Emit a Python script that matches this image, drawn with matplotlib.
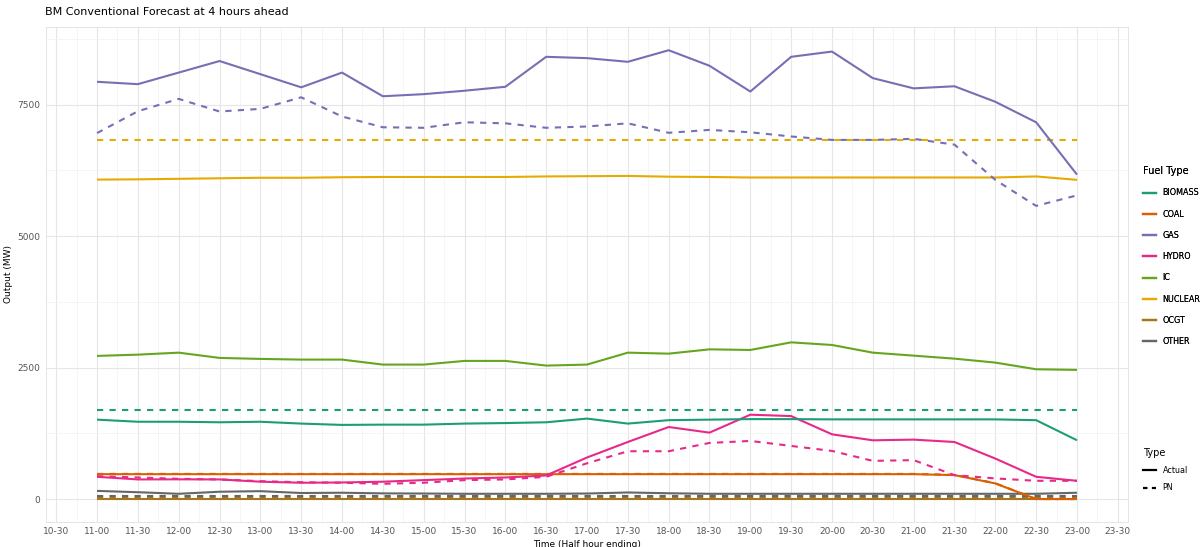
import matplotlib
matplotlib.use("Agg")
import matplotlib.pyplot as plt
from matplotlib.lines import Line2D
import numpy as np

# half hour ending labels, 10-30 .. 23-30 (data runs 11-00 .. 23-00)
tick_labels = ["10-30", "11-00", "11-30", "12-00", "12-30", "13-00", "13-30", "14-00", "14-30",
               "15-00", "15-30", "16-00", "16-30", "17-00", "17-30", "18-00", "18-30", "19-00",
               "19-30", "20-00", "20-30", "21-00", "21-30", "22-00", "22-30", "23-00", "23-30"]
data_times = tick_labels[1:-1]

gas_actual = [7935, 7890, 8110, 8330, 8080, 7830, 8110, 7660, 7700, 7765, 7840, 8410, 8385,
              8315, 8535, 8240, 7750, 8410, 8510, 8005, 7810, 7850, 7555, 7165, 6170]
gas_pn = [6960, 7375, 7610, 7370, 7420, 7640, 7275, 7070, 7060, 7165, 7145, 7060, 7085,
          7145, 6965, 7020, 6975, 6895, 6830, 6830, 6850, 6740, 6070, 5575, 5775]
nuclear_actual = [6075, 6080, 6090, 6100, 6110, 6110, 6120, 6125, 6125, 6125, 6125, 6135, 6140,
                  6145, 6130, 6125, 6115, 6115, 6115, 6115, 6115, 6115, 6115, 6135, 6070]
nuclear_pn = [6820, 6820, 6820, 6820, 6820, 6820, 6820, 6820, 6820, 6820, 6820, 6820, 6820,
              6820, 6820, 6820, 6820, 6820, 6820, 6820, 6820, 6820, 6820, 6820, 6820]
ic_actual = [2722, 2746, 2784, 2684, 2665, 2652, 2652, 2557, 2557, 2627, 2627, 2538, 2557,
             2784, 2765, 2847, 2835, 2980, 2930, 2784, 2727, 2670, 2595, 2468, 2456]
biomass_actual = [1510, 1470, 1470, 1460, 1470, 1435, 1410, 1415, 1415, 1435, 1445, 1460, 1530,
                  1435, 1500, 1510, 1520, 1520, 1515, 1515, 1515, 1515, 1515, 1500, 1118]
biomass_pn = [1690, 1690, 1690, 1690, 1690, 1690, 1690, 1690, 1690, 1690, 1690, 1690, 1690,
              1690, 1690, 1690, 1690, 1690, 1690, 1690, 1690, 1690, 1690, 1690, 1690]
hydro_actual = [423, 373, 375, 373, 330, 310, 315, 330, 360, 390, 410, 448, 790,
                1085, 1370, 1263, 1604, 1578, 1231, 1117, 1130, 1085, 770, 423, 347]
hydro_pn = [435, 410, 385, 373, 340, 320, 310, 290, 310, 360, 373, 423, 680,
            909, 909, 1067, 1105, 1010, 915, 726, 740, 455, 392, 347, 347]
coal_actual = [473, 473, 473, 473, 473, 473, 473, 473, 473, 473, 473, 473, 473,
               473, 473, 473, 473, 473, 473, 473, 473, 455, 297, 0, 0]
coal_pn = [478, 478, 478, 478, 478, 478, 478, 478, 478, 478, 478, 478, 478,
           478, 478, 478, 478, 478, 478, 478, 478, 460, 300, 0, 0]
other_actual = [155, 130, 100, 139, 150, 115, 120, 108, 105, 100, 100, 100, 105,
                125, 110, 100, 100, 100, 100, 100, 100, 100, 100, 100, 120]
other_pn = [55, 55, 55, 55, 55, 55, 55, 55, 55, 55, 55, 55, 55,
            55, 55, 55, 55, 55, 55, 55, 55, 55, 55, 55, 55]
ocgt_actual = [10, 10, 10, 10, 10, 10, 10, 10, 10, 10, 10, 10, 10,
               10, 10, 10, 10, 10, 10, 10, 10, 10, 10, 10, 10]
ocgt_pn = [25, 25, 25, 25, 25, 25, 25, 25, 25, 25, 25, 25, 25,
           25, 25, 25, 25, 25, 25, 25, 25, 25, 25, 25, 25]

fuels = ["BIOMASS", "COAL", "GAS", "HYDRO", "IC", "NUCLEAR", "OCGT", "OTHER"]
colours = ["#1B9E77", "#D95F02", "#7570B3", "#E7298A", "#66A61E", "#E6AB02", "#A6761D", "#666666"]
col = dict(zip(fuels, colours))

series = [
    ("OCGT", ocgt_actual, "Actual"), ("OCGT", ocgt_pn, "PN"),
    ("OTHER", other_actual, "Actual"), ("OTHER", other_pn, "PN"),
    ("COAL", coal_actual, "Actual"), ("COAL", coal_pn, "PN"),
    ("HYDRO", hydro_actual, "Actual"), ("HYDRO", hydro_pn, "PN"),
    ("BIOMASS", biomass_actual, "Actual"), ("BIOMASS", biomass_pn, "PN"),
    ("IC", ic_actual, "Actual"),
    ("NUCLEAR", nuclear_actual, "Actual"), ("NUCLEAR", nuclear_pn, "PN"),
    ("GAS", gas_actual, "Actual"), ("GAS", gas_pn, "PN"),
]

fig = plt.figure(figsize=(12.03, 5.47), dpi=100)
ax = fig.add_axes([46 / 1203, 1 - 521.5 / 547, 1082 / 1203, 494.5 / 547])

x = np.array([tick_labels.index(t) for t in data_times])
for fuel, vals, kind in series:
    if kind == "Actual":
        ax.plot(x, vals, color=col[fuel], lw=1.5, solid_capstyle="butt")
    else:
        ax.plot(x, vals, color=col[fuel], lw=1.5, dashes=(3, 3))

ax.set_xlim(-0.25, 26.25)
ax.set_ylim(-427, 8977)
ax.set_xticks(range(len(tick_labels)))
ax.set_xticklabels(tick_labels)
ax.set_xticks(np.arange(0.5, 26, 1), minor=True)
ax.set_yticks([0, 2500, 5000, 7500])
ax.set_yticks([1250, 3750, 6250, 8750], minor=True)
ax.grid(which="major", color="#E6E6E6", lw=0.8)
ax.grid(which="minor", color="#F2F2F2", lw=0.5)
ax.set_axisbelow(True)
ax.tick_params(which="both", length=0, labelsize=6.5, labelcolor="#555555", pad=4)
ax.tick_params(which="minor", labelbottom=False)
for s in ax.spines.values():
    s.set_color("#E0E0E0")
    s.set_linewidth(0.6)

ax.set_xlabel("Time (Half hour ending)", fontsize=6.5, labelpad=3)
ax.set_ylabel("Output (MW)", fontsize=6.5, labelpad=3)
fig.text(45 / 1203, 1 - 12 / 547, "BM Conventional Forecast at 4 hours ahead",
         fontsize=8, va="center", ha="left")

fuel_handles = [Line2D([], [], color=col[f], lw=1.6) for f in fuels]
leg1 = fig.legend(fuel_handles, fuels, title="Fuel Type", loc="upper left",
                  bbox_to_anchor=(1136 / 1203, 1 - 159 / 547), frameon=False,
                  fontsize=5.8, title_fontsize=7, handlelength=1.6, labelspacing=1.52,
                  alignment="left")
type_handles = [Line2D([], [], color="black", lw=1.6),
                Line2D([], [], color="black", lw=1.6, dashes=(2, 2))]
leg2 = fig.legend(type_handles, ["Actual", "PN"], title="Type", loc="upper left",
                  bbox_to_anchor=(1136 / 1203, 1 - 441 / 547), frameon=False,
                  fontsize=5.8, title_fontsize=7, handlelength=1.6, labelspacing=1.0,
                  alignment="left")
fig.add_artist(leg1)

fig.savefig("out.png", dpi=100)
